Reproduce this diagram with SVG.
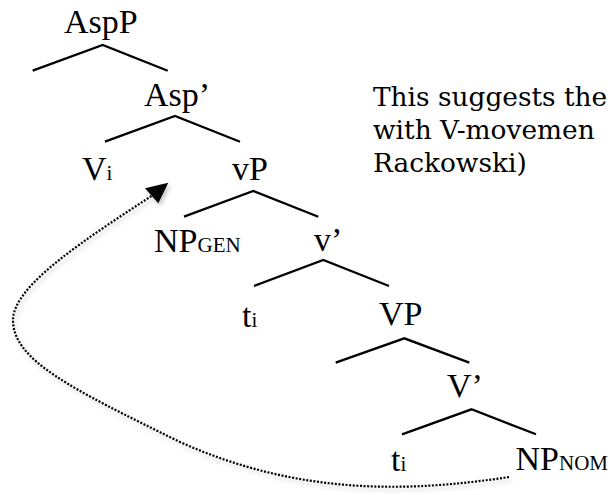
<svg xmlns="http://www.w3.org/2000/svg" width="610" height="495" viewBox="0 0 610 495">
  <defs>
    <filter id="soft-shadow" x="-10%" y="-10%" width="130%" height="130%">
      <feDropShadow dx="2" dy="3" stdDeviation="2" flood-color="#000" flood-opacity="0.22"/>
    </filter>
  </defs>
  <style>
    .lbl { font-family: "Liberation Serif", "Times New Roman", serif; font-size: 34px; fill: #000; }
    .sub { font-size: 21px; }
    .note { font-family: "DejaVu Serif", "Liberation Serif", serif; font-size: 26.4px; fill: #000; }
    .branch { stroke: #000; stroke-width: 2.3; fill: none; stroke-linecap: butt; }
    .move { stroke: #000; stroke-width: 2.2; fill: none; stroke-dasharray: 2 1.6; }
  </style>

  <!-- tree branches -->
  <g id="branches">
    <polyline class="branch" points="32.7,70.7 102.7,45 167.7,70.7"/>
    <polyline class="branch" points="105,141.7 175,116 240,141.7"/>
    <polyline class="branch" points="184,216.7 253.3,191 318.3,216.7"/>
    <polyline class="branch" points="254,286 323.3,260 389,286"/>
    <polyline class="branch" points="335.7,362.7 404.3,338.3 469.3,362.7"/>
    <polyline class="branch" points="402,434.3 471.5,409.3 536,434.3"/>
  </g>

  <!-- tree labels -->
  <g id="node-AspP"><text class="lbl" x="64" y="33">AspP</text></g>
  <g id="node-Asp-bar"><text class="lbl" x="144" y="106">Asp’</text></g>
  <g id="node-Vi"><text class="lbl" x="82" y="180">V<tspan class="sub">i</tspan></text></g>
  <g id="node-vP"><text class="lbl" x="232" y="180">vP</text></g>
  <g id="node-NPgen"><text class="lbl" x="154" y="251.5">NP<tspan class="sub">GEN</tspan></text></g>
  <g id="node-v-bar"><text class="lbl" x="314" y="251">v’</text></g>
  <g id="node-ti-1"><text class="lbl" x="242" y="327">t<tspan class="sub">i</tspan></text></g>
  <g id="node-VP"><text class="lbl" x="379" y="325">VP</text></g>
  <g id="node-V-bar"><text class="lbl" x="447" y="397">V’</text></g>
  <g id="node-ti-2"><text class="lbl" x="391" y="471">t<tspan class="sub">i</tspan></text></g>
  <g id="node-NPnom"><text class="lbl" x="515.5" y="470">NP<tspan class="sub">NOM</tspan></text></g>

  <!-- side note -->
  <g id="note">
    <text class="note" x="373" y="106">This suggests the</text>
    <text class="note" x="373" y="139">with V-movemen</text>
    <text class="note" x="373" y="172">Rackowski)</text>
  </g>

  <!-- movement arrow from the lower object position up to V -->
  <g id="connectors" filter="url(#soft-shadow)">
    <path class="move" d="M 509 477 C 410 492, 300 496, 180 442 C 70 388, 13 360, 13 320 C 13 285, 88.6 237.3, 151.7 195.8"/>
    <polygon points="145,188.3 168.3,182.7 158.3,203.3" fill="#000"/>
  </g>
</svg>
